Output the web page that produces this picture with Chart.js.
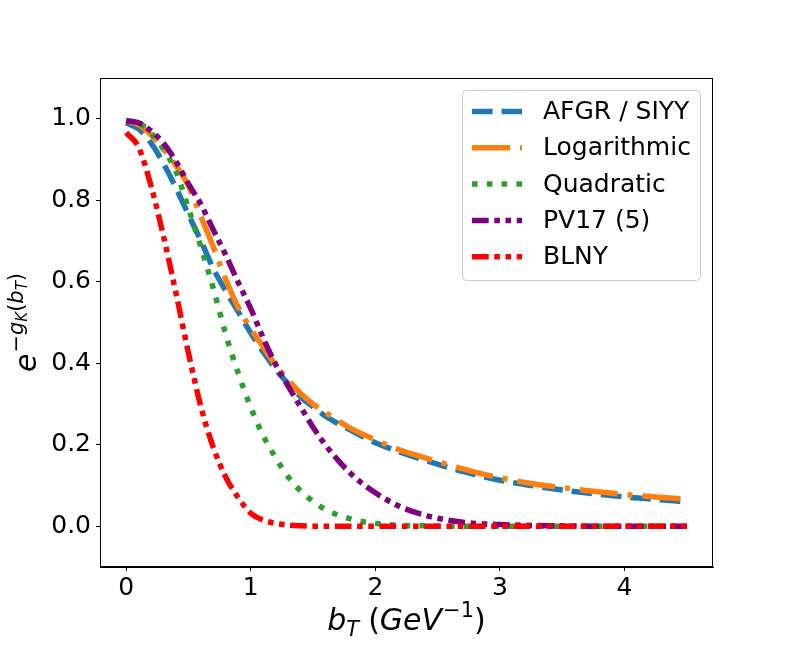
<!DOCTYPE html>
<html>
<head>
<meta charset="utf-8">
<script src="https://cdn.jsdelivr.net/npm/chart.js@4.4.1/dist/chart.umd.min.js"></script>
<style>
  html, body { margin: 0; padding: 0; background: #fff; }
  #wrap { width: 792px; height: 648px; }
</style>
</head>
<body>
<div id="wrap"><canvas id="chart" width="792" height="648"></canvas></div>
<script>
// b_T sample points (GeV^-1)
const bT = [0, 0.1, 0.2, 0.3, 0.4, 0.5, 0.6, 0.7, 0.8, 0.9, 1.0, 1.1, 1.2, 1.3, 1.4, 1.5, 1.6, 1.8, 2.0, 2.2, 2.4, 2.6, 2.8, 3.0, 3.25, 3.5, 3.75, 4.0, 4.25, 4.5];

// e^{-g_K(b_T)}
const afgr = [0.99, 0.975, 0.94, 0.89, 0.83, 0.765, 0.70, 0.632, 0.577, 0.526, 0.474, 0.428, 0.385, 0.350, 0.318, 0.293, 0.270, 0.236, 0.205, 0.182, 0.162, 0.143, 0.127, 0.113, 0.100, 0.089, 0.080, 0.072, 0.066, 0.060];
const logarithmic = [0.995, 0.985, 0.96, 0.925, 0.885, 0.835, 0.76, 0.685, 0.605, 0.537, 0.485, 0.44, 0.395, 0.36, 0.326, 0.30, 0.279, 0.241, 0.212, 0.187, 0.168, 0.150, 0.133, 0.119, 0.105, 0.095, 0.086, 0.078, 0.072, 0.066];
const quadratic = [0.995, 0.99, 0.965, 0.925, 0.87, 0.78, 0.685, 0.583, 0.47, 0.375, 0.292, 0.222, 0.168, 0.121, 0.087, 0.061, 0.041, 0.018, 0.007, 0.002, 0.001, 0, 0, 0, 0, 0, 0, 0, 0, 0];
const pv17 = [0.995, 0.99, 0.97, 0.94, 0.895, 0.84, 0.79, 0.727, 0.665, 0.598, 0.534, 0.462, 0.397, 0.344, 0.293, 0.243, 0.199, 0.13, 0.082, 0.048, 0.027, 0.014, 0.007, 0.004, 0.002, 0.001, 0, 0, 0, 0];
const blny = [0.966, 0.93, 0.835, 0.711, 0.572, 0.425, 0.293, 0.193, 0.12, 0.07, 0.032, 0.015, 0.007, 0.003, 0.001, 0, 0, 0, 0, 0, 0, 0, 0, 0, 0, 0, 0, 0, 0, 0];

const seriesNames = ['AFGR / SIYY', 'Logarithmic', 'Quadratic', 'PV17 (5)', 'BLNY'];
const xTicks = [0, 1, 2, 3, 4];
const yTicks = [0, 0.2, 0.4, 0.6, 0.8, 1.0];

const FONT = '"DejaVu Sans", sans-serif';

function pts(vals) {
    return bT.map((b, i) => ({ x: b, y: vals[i] }));
}

function makeSet(label, vals, color, dash, order) {
    return {
        label: label,
        data: pts(vals),
        borderColor: color,
        backgroundColor: color,
        borderWidth: 5.5,
        borderDash: dash,
        borderCapStyle: 'butt',
        borderJoinStyle: 'round',
        pointRadius: 0,
        cubicInterpolationMode: 'monotone',
        fill: false,
        order: order,
    };
}

// draw a run of text pieces (for the sub/superscript axis titles)
function drawRich(ctx, pieces, cx, cy, rotate) {
    ctx.save();
    ctx.translate(cx, cy);
    if (rotate) ctx.rotate(-Math.PI / 2);
    let total = 0;
    pieces.forEach(p => {
        ctx.font = p.font;
        total += ctx.measureText(p.t).width + (p.gap || 0);
    });
    let x = -total / 2;
    ctx.fillStyle = '#000';
    ctx.textBaseline = 'alphabetic';
    pieces.forEach(p => {
        ctx.font = p.font;
        ctx.fillText(p.t, x, p.dy || 0);
        x += ctx.measureText(p.t).width + (p.gap || 0);
    });
    ctx.restore();
}

const framePlugin = {
    id: 'frame',
    afterDraw(chart) {
        const { ctx, chartArea: a } = chart;
        ctx.save();
        ctx.strokeStyle = '#000';
        ctx.lineWidth = 1;
        ctx.strokeRect(a.left + 0.5, a.top + 0.5, a.right - a.left - 1, a.bottom - a.top - 1);

        // legend box inside top right
        ctx.beginPath();
        ctx.roundRect(462.5, 90.5, 238, 190, 4);
        ctx.fillStyle = 'rgba(255,255,255,0.8)';
        ctx.fill();
        ctx.strokeStyle = '#cccccc';
        ctx.stroke();
        chart.data.datasets.forEach((ds, i) => {
            const y = 111.5 + i * 36.3;
            ctx.beginPath();
            ctx.setLineDash(ds.borderDash);
            ctx.lineWidth = ds.borderWidth;
            ctx.strokeStyle = ds.borderColor;
            ctx.lineCap = 'butt';
            ctx.moveTo(472, y);
            ctx.lineTo(522, y);
            ctx.stroke();
            ctx.setLineDash([]);
            ctx.fillStyle = '#000';
            ctx.font = '25px ' + FONT;
            ctx.textBaseline = 'middle';
            ctx.fillText(ds.label, 543, y + 1);
        });

        // axis titles
        const big = 'italic 30px ' + FONT, bigUp = '30px ' + FONT;
        const sm = 'italic 21px ' + FONT, smUp = '21px ' + FONT;
        const tiny = 'italic 15px ' + FONT;
        drawRich(ctx, [
            { t: 'b', font: big },
            { t: 'T', font: sm, dy: 6, gap: 9 },
            { t: '(', font: bigUp },
            { t: 'GeV', font: big, gap: 1 },
            { t: '\u22121', font: smUp, dy: -13 },
            { t: ')', font: bigUp },
        ], (a.left + a.right) / 2, 630, false);

        drawRich(ctx, [
            { t: 'e', font: big, gap: 1 },
            { t: '\u2212', font: smUp, dy: -13 },
            { t: 'g', font: sm, dy: -13 },
            { t: 'K', font: tiny, dy: -9 },
            { t: '(', font: smUp, dy: -13 },
            { t: 'b', font: sm, dy: -13 },
            { t: 'T', font: tiny, dy: -9 },
            { t: ')', font: smUp, dy: -13 },
        ], 36, (a.top + a.bottom) / 2, true);
        ctx.restore();
    }
};

const ctx = document.getElementById('chart').getContext('2d');
const chart = new Chart(ctx, {
    type: 'line',
    data: {
        datasets: [
            makeSet(seriesNames[0], afgr, '#1f77b4', [20.6, 8.9], 4),
            makeSet(seriesNames[1], logarithmic, '#ff7f0e', [38, 10, 5, 10], 3),
            makeSet(seriesNames[2], quadratic, '#2ca02c', [5.6, 9.2], 2),
            makeSet(seriesNames[3], pv17, '#800080', [16.7, 5.6, 5.6, 5.6, 5.6, 5.6], 1),
            makeSet(seriesNames[4], blny, '#ff0000', [16.7, 5.6, 5.6, 5.6, 5.6, 5.6], 0),
        ],
    },
    options: {
        responsive: false,
        animation: false,
        devicePixelRatio: 1,
        layout: { padding: { left: 0, top: 78, right: 79, bottom: 0 } },
        plugins: {
            legend: { display: false },
            tooltip: { enabled: false },
        },
        scales: {
            x: {
                type: 'linear',
                min: -0.21,
                max: 4.71,
                afterBuildTicks: s => { s.ticks = xTicks.map(v => ({ value: v })); },
                afterFit: s => { s.height = 81; },
                ticks: {
                    color: '#000',
                    font: { family: FONT, size: 25 },
                    padding: 2,
                    maxRotation: 0,
                    callback: v => String(v),
                },
                grid: { drawOnChartArea: false, drawTicks: true, tickLength: 4, tickColor: '#000' },
                border: { display: true, color: '#000' },
            },
            y: {
                min: -0.1,
                max: 1.1,
                afterBuildTicks: s => { s.ticks = yTicks.map(v => ({ value: v })); },
                afterFit: s => { s.width = 100; },
                ticks: {
                    color: '#000',
                    font: { family: FONT, size: 25 },
                    padding: 5,
                    callback: v => Number(v).toFixed(1),
                },
                grid: { drawOnChartArea: false, drawTicks: true, tickLength: 4, tickColor: '#000' },
                border: { display: true, color: '#000' },
            },
        },
    },
    plugins: [framePlugin],
});
</script>
</body>
</html>
